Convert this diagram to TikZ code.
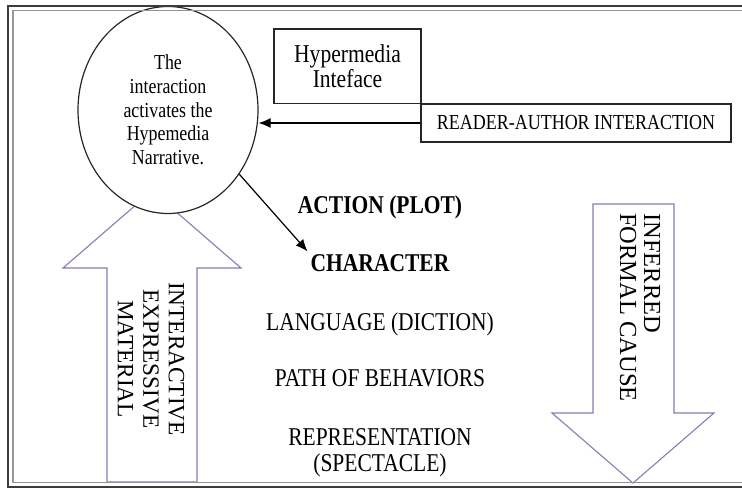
\documentclass[tikz,border=0pt]{standalone}
\usepackage{fontspec}
\setmainfont{Liberation Serif}[FakeStretch=0.84]
\newfontfamily\plainserif{Liberation Serif}
\usepackage{xcolor}
\usetikzlibrary{shapes.geometric,arrows.meta}

\definecolor{blockblue}{RGB}{128,128,180}
\definecolor{framedark}{RGB}{60,60,60}
\definecolor{framelight}{RGB}{150,150,150}

\begin{document}
\begin{tikzpicture}[x=1pt,y=-1pt,
    item/.style={font=\fontsize{25.6}{26}\selectfont, inner sep=3pt, anchor=base},
    keyitem/.style={item, font=\bfseries\fontsize{25.6}{26}\selectfont},
    box/.style={draw=black!85, line width=1.1pt, inner sep=0pt},
    blockarrow/.style={draw=blockblue, line width=1.1pt, line join=miter},
    link/.style={-{Latex[length=12pt,width=10pt]}, line width=1.2pt},
    sidetext/.style={rotate=-90, inner sep=0pt}]
  \useasboundingbox (0,0) rectangle (742,488);
  \clip (0,0) rectangle (742,488);

  \draw[blockarrow] (107,482) -- (107,268) -- (63,268) -- (152,191) -- (241,268) -- (197,268) -- (197,482) -- cycle;
  \draw[blockarrow] (593,204) -- (674,204) -- (674,413) -- (714,413) -- (633,483) -- (552,413) -- (593,413) -- cycle;
  \node[sidetext, align=center, font=\plainserif\fontsize{23.3}{25.5}\selectfont] (material) at (151,359) {INTERACTIVE\\EXPRESSIVE\\MATERIAL};
  \node[sidetext, align=left, font=\plainserif\fontsize{24.5}{24}\selectfont] (cause) at (640,307.5) {INFERRED\\FORMAL CAUSE};

  \node[ellipse, draw=black!85, fill=white, line width=1.2pt, minimum width=180pt, minimum height=207pt, inner sep=0pt,
    align=center, font=\fontsize{21.3}{23.7}\selectfont] (narrative) at (168,110) {The\\interaction\\activates the\\Hypemedia\\Narrative.};
  \node[box, minimum width=147pt, minimum height=74.5pt, align=center, font=\fontsize{25.7}{25}\selectfont] (interface) at (347.5,66.2) {Hypermedia\\Inteface};
  \node[box, minimum width=310pt, minimum height=38pt, font=\fontsize{21.4}{22}\selectfont] (reader) at (576,123) {READER-AUTHOR INTERACTION};

  \node[keyitem] (plot) at (380,213.5) {ACTION (PLOT)};
  \node[keyitem] (character) at (380,271.5) {CHARACTER};
  \node[item] (diction) at (380,330.5) {LANGUAGE (DICTION)};
  \node[item] (behaviors) at (380,386.5) {PATH OF BEHAVIORS};
  \node[item, anchor=center, align=center] (spectacle) at (380,452.4) {REPRESENTATION\\(SPECTACLE)};

  \draw[link] (reader.west) -- (reader.west -| narrative.east);
  \draw[link] (narrative.-42) -- (character.north west);

  \draw[framedark, line width=2pt] (760,6) -- (8,6) -- (8,486.5) -- (760,486.5);
  \draw[framelight, line width=1.3pt] (760,10.5) -- (13,10.5) -- (13,482.5) -- (760,482.5);
\end{tikzpicture}
\end{document}
